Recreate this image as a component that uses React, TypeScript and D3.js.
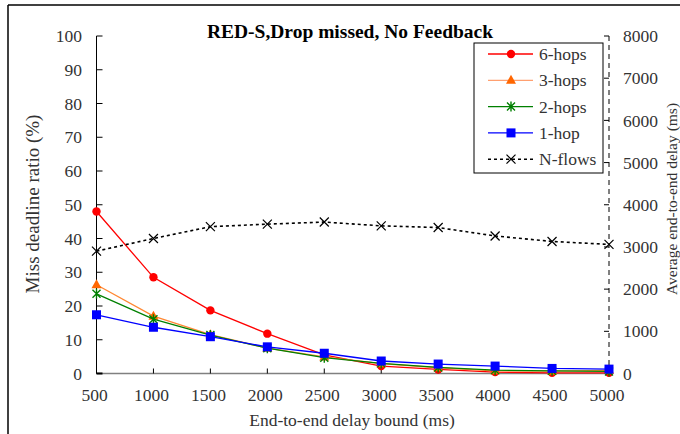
import React from "react";
import * as d3 from "d3";

const bounds = [500, 1000, 1500, 2000, 2500, 3000, 3500, 4000, 4500, 5000];
const hops6 = [48.0, 28.5, 18.7, 11.8, 5.5, 2.2, 1.2, 0.4, 0.2, 0.2];
const hops3 = [26.3, 17.0, 11.5, 7.5, 4.9, 2.9, 1.7, 0.8, 0.7, 0.9];
const hops2 = [23.6, 16.1, 11.4, 7.5, 4.7, 3.0, 1.8, 1.0, 0.8, 0.6];
const hop1 = [17.4, 13.7, 10.9, 7.9, 6.0, 3.7, 2.8, 2.2, 1.5, 1.3];
const nflows = [2900, 3200, 3480, 3540, 3590, 3500, 3460, 3260, 3130, 3060];

const leftTicks = [0, 10, 20, 30, 40, 50, 60, 70, 80, 90, 100];
const rightTicks = [0, 1000, 2000, 3000, 4000, 5000, 6000, 7000, 8000];
const xTicks = bounds;

const title = "RED-S,Drop missed, No Feedback";
const xTitle = "End-to-end delay bound (ms)";
const yTitle = "Miss deadline ratio (%)";
const y2Title = "Average end-to-end delay (ms)";

const FONT = "'Liberation Serif', 'DejaVu Serif', serif";

type Series = {
  name: string;
  values: number[];
  line: string;
  marker: string;
  shape: string;
  dash?: string;
  axis: "left" | "right";
};

const series: Series[] = [
  { name: "6-hops", values: hops6, line: "#FF0000", marker: "#FF0000", shape: "circle", axis: "left" },
  { name: "3-hops", values: hops3, line: "#FF8833", marker: "#FF6600", shape: "triangle", axis: "left" },
  { name: "2-hops", values: hops2, line: "#008000", marker: "#008000", shape: "star", axis: "left" },
  { name: "1-hop", values: hop1, line: "#0000FF", marker: "#0000FF", shape: "square", axis: "left" },
  { name: "N-flows", values: nflows, line: "#000000", marker: "#000000", shape: "cross", dash: "3,3", axis: "right" },
];

function Marker({ shape, x, y, color }: { shape: string; x: number; y: number; color: string }) {
  if (shape === "circle") return <circle cx={x} cy={y} r={4.2} fill={color} />;
  if (shape === "square") return <rect x={x - 4.5} y={y - 4.5} width={9} height={9} fill={color} />;
  if (shape === "triangle")
    return <path d={`M${x},${y - 5.5}L${x + 5},${y + 3.5}L${x - 5},${y + 3.5}Z`} fill={color} />;
  if (shape === "star")
    return (
      <path
        d={`M${x - 4},${y - 4}L${x + 4},${y + 4}M${x - 4},${y + 4}L${x + 4},${y - 4}M${x},${y - 5}L${x},${y + 5}`}
        stroke={color}
        strokeWidth={1.4}
        fill="none"
      />
    );
  if (shape === "cross")
    return (
      <path
        d={`M${x - 4.5},${y - 4.5}L${x + 4.5},${y + 4.5}M${x - 4.5},${y + 4.5}L${x + 4.5},${y - 4.5}`}
        stroke={color}
        strokeWidth={1.2}
        fill="none"
      />
    );
  return null;
}

export default function App() {
  const W = 680;
  const H = 434;
  const x0 = 96.5;
  const x1 = 609;
  const yTop = 36;
  const yBot = 373.5;
  const x = d3.scaleLinear().domain([500, 5000]).range([x0, x1]);
  const yL = d3.scaleLinear().domain([0, 100]).range([yBot, yTop]);
  const yR = d3.scaleLinear().domain([0, 8000]).range([yBot, yTop]);

  const legendX = 474;
  const legendY = 43;
  const legendW = 129;
  const legendH = 130;
  const rowH = 26.3;
  const txt = { fontFamily: FONT } as React.CSSProperties;

  return (
    <div style={{ position: "absolute", left: 0, top: 0 }}>
      <svg width={W} height={H} style={{ display: "block", background: "#fff", fontFamily: FONT }}>
        <rect x={0} y={0} width={W} height={H} fill="#fff" />
        {/* outer frame (clipped at right/bottom) */}
        <line x1={8} y1={5} x2={W} y2={5} stroke="#000" strokeWidth={1.5} />
        <line x1={8} y1={5} x2={8} y2={H} stroke="#000" strokeWidth={1.5} />

        {/* title */}
        <text x={350} y={38} textAnchor="middle" fontSize={19.5} fontWeight="bold" fill="#000" style={txt}>
          {title}
        </text>

        {/* x axis line */}
        <line x1={x0} y1={yBot} x2={x1} y2={yBot} stroke="#808080" strokeWidth={1.5} />
        {xTicks.map((t) => (
          <g key={"xt" + t}>
            <line x1={x(t)} y1={yBot} x2={x(t)} y2={yBot - 5} stroke="#000" strokeWidth={1} />
            <text x={x(t) - 2} y={401} textAnchor="middle" fontSize={17.5} fill="#333" style={txt}>
              {t}
            </text>
          </g>
        ))}

        {/* left axis */}
        <line x1={x0} y1={yTop} x2={x0} y2={yBot} stroke="#000" strokeWidth={1} />
        {leftTicks.map((t) => (
          <g key={"yl" + t}>
            <line x1={x0} y1={yL(t)} x2={x0 + 6} y2={yL(t)} stroke="#000" strokeWidth={t === 0 ? 2 : 1} />
            <text x={82} y={yL(t)} dy="0.35em" textAnchor="end" fontSize={17.5} fill="#333" style={txt}>
              {t}
            </text>
          </g>
        ))}

        {/* right axis */}
        <line x1={x1} y1={yTop} x2={x1} y2={yBot} stroke="#000" strokeWidth={1} strokeDasharray="5,4" />
        {rightTicks.map((t) => (
          <g key={"yr" + t}>
            <line x1={x1 - 5} y1={yR(t)} x2={x1} y2={yR(t)} stroke="#000" strokeWidth={1} />
            <text x={623} y={yR(t)} dy="0.35em" textAnchor="start" fontSize={17.5} fill="#333" style={txt}>
              {t}
            </text>
          </g>
        ))}

        {/* axis titles */}
        <text x={352} y={426} textAnchor="middle" fontSize={17.5} fill="#333" style={txt}>
          {xTitle}
        </text>
        <text
          transform={`translate(39,204) rotate(-90)`}
          textAnchor="middle"
          fontSize={19}
          fill="#333"
          style={txt}
        >
          {yTitle}
        </text>
        <text
          transform={`translate(677,199) rotate(-90)`}
          textAnchor="middle"
          fontSize={15.5}
          fill="#333"
          style={txt}
        >
          {y2Title}
        </text>

        {/* series */}
        {series.map((s) => {
          const yS = s.axis === "left" ? yL : yR;
          const line = d3
            .line<number>()
            .x((_, i) => x(bounds[i]))
            .y((v) => yS(v));
          return (
            <g key={s.name}>
              <path
                d={line(s.values) || ""}
                fill="none"
                stroke={s.line}
                strokeWidth={s.dash ? 1.6 : 1.3}
                strokeDasharray={s.dash}
              />
              {s.values.map((v, i) => (
                <Marker key={i} shape={s.shape} x={x(bounds[i])} y={yS(v)} color={s.marker} />
              ))}
            </g>
          );
        })}

        {/* legend */}
        <rect x={legendX} y={legendY} width={legendW} height={legendH} fill="#fff" stroke="#000" strokeWidth={1} />
        {series.map((s, i) => {
          const cy = legendY + 11 + i * rowH;
          return (
            <g key={"lg" + s.name}>
              <line
                x1={488}
                y1={cy}
                x2={533}
                y2={cy}
                stroke={s.shape === "triangle" ? "#FFA070" : s.line}
                strokeWidth={s.dash ? 1.4 : 1.3}
                strokeDasharray={s.dash}
              />
              <Marker shape={s.shape} x={511} y={cy} color={s.marker} />
              <text x={539} y={cy} dy="0.35em" fontSize={17.5} fill="#333" style={txt}>
                {s.name}
              </text>
            </g>
          );
        })}
      </svg>
    </div>
  );
}
